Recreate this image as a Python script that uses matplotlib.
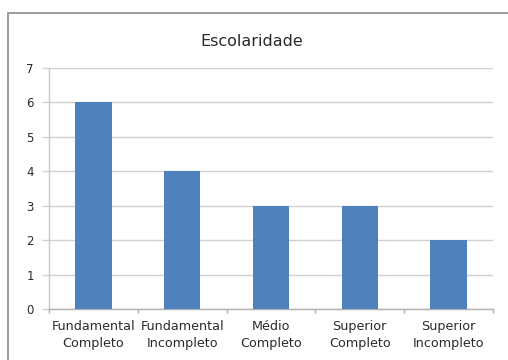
import matplotlib
matplotlib.use("Agg")
import matplotlib.pyplot as plt
from matplotlib.patches import Rectangle

categories = ["Fundamental\nCompleto", "Fundamental\nIncompleto", "Médio\nCompleto",
              "Superior\nCompleto", "Superior\nIncompleto"]
values = [6, 4, 3, 3, 2]
yticks = [0, 1, 2, 3, 4, 5, 6, 7]

W, H = 508, 360
plt.rcParams['font.family'] = ['DejaVu Sans']
fig = plt.figure(figsize=(W / 100, H / 100), dpi=100)

# chart frame (open to the right and bottom)
fig.patches.append(Rectangle((8 / W, -0.1), 1.2, 1 - 13 / H + 0.1,
                             transform=fig.transFigure, fill=False,
                             edgecolor="#939393", linewidth=1.3))

left, right, top, bottom = 49, 493, 68, 309
ax = fig.add_axes([left / W, (H - bottom) / H, (right - left) / W, (bottom - top) / H])

x = list(range(len(values)))
ax.bar(x, values, width=0.41, color="#4f81bd", zorder=3)
ax.set_xlim(-0.5, len(values) - 0.5)
ax.set_ylim(0, 7)
ax.set_yticks(yticks)
ax.set_yticklabels([str(v) for v in yticks], fontsize=8.5, color="#2a2a2a")
ax.yaxis.grid(True, color="#d0d0d0", linewidth=1.0, zorder=0)
ax.set_axisbelow(True)

ax.set_xticks(x)
ax.set_xticklabels(categories, fontsize=9.2, color="#2a2a2a", linespacing=1.4)
ax.tick_params(axis="x", length=0, pad=8)
ax.set_xticks([i + 0.5 for i in range(-1, len(values))], minor=True)
ax.tick_params(axis="x", which="minor", length=3, color="#b0b0b0", width=1.0)
ax.tick_params(axis="y", length=5, color="#d0d0d0", width=1.0, pad=6)

for s in ["top", "right"]:
    ax.spines[s].set_visible(False)
ax.spines["left"].set_color("#c8c8c8")
ax.spines["bottom"].set_color("#b0b0b0")
ax.spines["left"].set_linewidth(1.0)
ax.spines["bottom"].set_linewidth(1.0)

fig.text(252 / W, 1 - 41 / H, "Escolaridade", ha="center", va="center",
         fontsize=11.5, color="#2a2a2a")

fig.savefig("out.png", dpi=100)
